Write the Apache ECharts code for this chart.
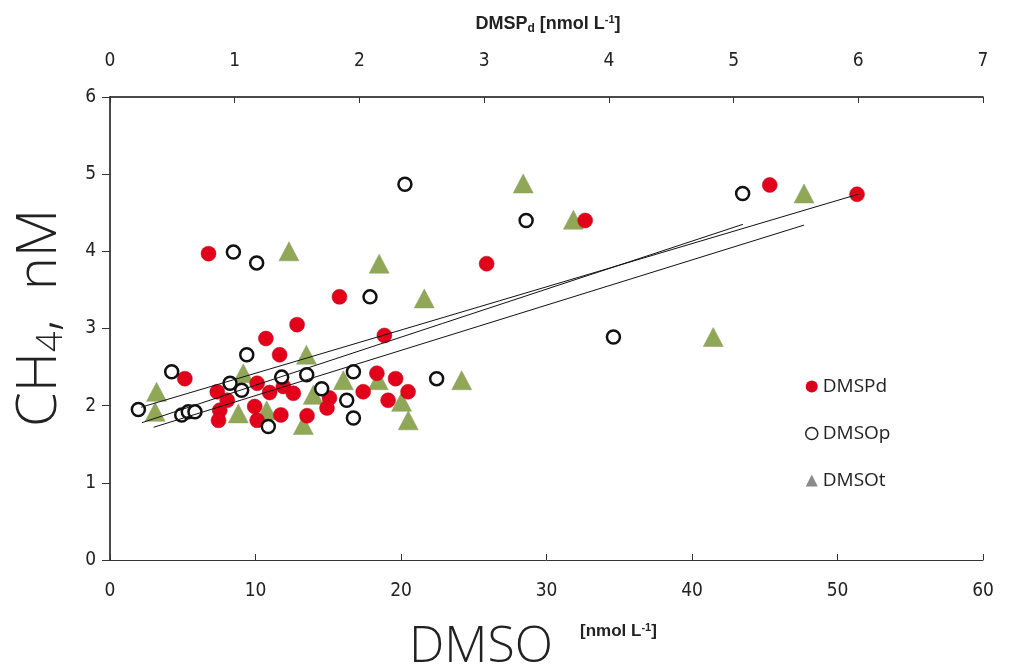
<!DOCTYPE html>
<html><head><meta charset="utf-8">
<script src="https://cdn.jsdelivr.net/npm/echarts@6/dist/echarts.min.js"></script>
<style>html,body{margin:0;padding:0;background:#fff}#c{width:1009px;height:667px}</style>
</head><body><div id="c"></div>
<script>
// DMSPd [nmol L-1] (top axis) vs CH4 [nM]
const dmspdX = [0.79,5.99,5.29,3.81,3.02,1.84,1.50,1.25,2.20,1.36,0.60,0.86,0.94,0.88,0.87,1.18,1.28,1.16,1.18,1.39,1.47,1.37,1.58,1.76,1.74,2.03,2.14,2.29,2.23,2.39];
const dmspdY = [3.97,4.74,4.86,4.40,3.84,3.41,3.05,2.87,2.91,2.66,2.35,2.18,2.07,1.94,1.81,2.29,2.17,1.99,1.81,2.25,2.16,1.88,1.87,2.10,1.97,2.18,2.42,2.35,2.07,2.18];
// DMSOp [nmol L-1] (bottom axis) vs CH4
const dmsopX = [20.27,28.6,8.48,10.08,17.87,43.48,34.6,4.24,1.95,4.93,5.38,5.84,8.25,9.05,9.4,11.8,13.52,10.88,14.55,16.27,16.73,16.73,22.45];
const dmsopY = [4.87,4.40,3.99,3.85,3.41,4.75,2.89,2.44,1.95,1.88,1.92,1.92,2.29,2.20,2.66,2.37,2.40,1.73,2.22,2.07,2.44,1.84,2.35];
// DMSOt [nmol L-1] (bottom axis) vs CH4
const dmsotX = [28.4,31.85,47.7,41.46,12.3,18.5,21.6,3.2,3.1,9.16,8.82,13.5,13.29,13.97,10.77,16.04,18.44,20.04,20.5,24.17];
const dmsotY = [4.88,4.41,4.75,2.89,4.00,3.84,3.39,2.18,1.92,2.42,1.90,2.66,1.75,2.14,1.94,2.33,2.33,2.05,1.81,2.33];
// regression line end points
const fitDmspdX = [0.25, 6.0], fitDmspdY = [1.98, 4.74];
const fitDmsopX = [2.2, 43.5], fitDmsopY = [1.78, 4.35];
const fitDmsotX = [3.0, 47.7], fitDmsotY = [1.72, 4.34];
// axis ticks
const bottomTicks = [0,10,20,30,40,50,60];
const topTicks = [0,1,2,3,4,5,6,7];
const yTicks = [0,1,2,3,4,5,6];

const zip = (a,b) => a.map((v,i)=>[v,b[i]]);
const tickFont = {fontFamily:"'Liberation Sans Narrow','DejaVu Sans Condensed',sans-serif", fontSize:19, color:'#222'};
const chart = echarts.init(document.getElementById('c'), null, {renderer:'canvas'});
chart.setOption({
  animation:false,
  backgroundColor:'#fff',
  grid:{left:110, right:26, top:97, bottom:107},
  xAxis:[
    {type:'value', position:'bottom', min:bottomTicks[0], max:bottomTicks[bottomTicks.length-1], interval:10,
     axisLine:{show:true, lineStyle:{color:'#333', width:1}},
     axisTick:{show:true, inside:true, length:6, lineStyle:{color:'#333'}},
     axisLabel:Object.assign({margin:22}, tickFont), splitLine:{show:false}},
    {type:'value', position:'top', min:topTicks[0], max:topTicks[topTicks.length-1], interval:1,
     axisLine:{show:true, onZero:false, lineStyle:{color:'#111', width:1.5}},
     axisTick:{show:true, inside:true, length:6, lineStyle:{color:'#333'}},
     axisLabel:Object.assign({margin:26}, tickFont), splitLine:{show:false}}
  ],
  yAxis:{type:'value', min:yTicks[0], max:yTicks[yTicks.length-1], interval:1,
     axisLine:{show:true, lineStyle:{color:'#111', width:1.5}},
     axisTick:{show:true, inside:false, length:8, lineStyle:{color:'#333'}},
     axisLabel:Object.assign({margin:14}, tickFont), splitLine:{show:false}},
  legend:{
    orient:'vertical', left:800, top:372, itemGap:28, itemWidth:12, itemHeight:12,
    textStyle:{fontFamily:"'Open Sans',sans-serif", fontSize:19, color:'#222'},
    data:[
      {name:'DMSPd', icon:'circle', itemStyle:{color:'#d9001a', borderColor:'#a00010', borderWidth:0}},
      {name:'DMSOp', icon:'circle', itemStyle:{color:'#fff', borderColor:'#222', borderWidth:1.5}},
      {name:'DMSOt', icon:'triangle', itemStyle:{color:'#8a8a8a', borderWidth:0}}
    ]
  },
  series:[
    {name:'DMSOt', type:'scatter', xAxisIndex:0, data:zip(dmsotX,dmsotY), symbol:'triangle', symbolSize:[20,19], z:2,
     itemStyle:{color:'#90a856', borderColor:'#8a9a70', borderWidth:0.5, opacity:1}},
    {name:'DMSPd', type:'scatter', xAxisIndex:1, data:zip(dmspdX,dmspdY), symbol:'circle', symbolSize:15, z:3,
     itemStyle:{color:'#e3001b', borderColor:'#b0101a', borderWidth:0.5, opacity:1}},
    {name:'DMSOp', type:'scatter', xAxisIndex:0, data:zip(dmsopX,dmsopY), symbol:'circle', symbolSize:13, z:4,
     itemStyle:{color:'#fff', borderColor:'#111', borderWidth:2.5, opacity:1}},
    {name:'fitDMSPd', type:'line', xAxisIndex:1, data:zip(fitDmspdX,fitDmspdY), symbol:'none', z:5, lineStyle:{color:'#111', width:1}},
    {name:'fitDMSOp', type:'line', xAxisIndex:0, data:zip(fitDmsopX,fitDmsopY), symbol:'none', z:5, lineStyle:{color:'#111', width:1}},
    {name:'fitDMSOt', type:'line', xAxisIndex:0, data:zip(fitDmsotX,fitDmsotY), symbol:'none', z:5, lineStyle:{color:'#111', width:1}}
  ],
  graphic:[
    {type:'text', x:548, y:24, style:{
      text:'{b|DMSP}{s|d}{b| [nmol L}{p|-1}{b|]}', align:'center', verticalAlign:'middle',
      rich:{b:{fontFamily:"'Liberation Sans Narrow',sans-serif", fontWeight:'bold', fontSize:18, fill:'#222'},
            s:{fontFamily:"'Liberation Sans Narrow',sans-serif", fontWeight:'bold', fontSize:12, fill:'#222', padding:[9,0,0,0]},
            p:{fontFamily:"'Liberation Sans Narrow',sans-serif", fontWeight:'bold', fontSize:11, fill:'#222', padding:[0,0,8,0]}}
    }},
    {type:'text', x:481, y:648, style:{text:'DMSO', fontFamily:"'Open Sans',sans-serif", fontWeight:300, fontSize:50, fill:'#222', align:'center', verticalAlign:'middle'}},
    {type:'text', x:580, y:622, style:{
      text:'{b|[nmol L}{p|-1}{b|]}',
      rich:{b:{fontFamily:"'Liberation Sans Narrow',sans-serif", fontWeight:'bold', fontSize:17, fill:'#222'},
            p:{fontFamily:"'Liberation Sans Narrow',sans-serif", fontWeight:'bold', fontSize:11, fill:'#222', padding:[0,0,8,0]}}}},
    {type:'text', x:40, y:318, rotation:Math.PI/2, style:{
      text:'{m|CH}{s|4}{m|,  nM}', align:'center', verticalAlign:'middle',
      rich:{m:{fontFamily:"'Open Sans',sans-serif", fontWeight:300, fontSize:56, fill:'#222'},
            s:{fontFamily:"'Open Sans',sans-serif", fontWeight:300, fontSize:36, fill:'#222', padding:[24,0,0,0]}}}}
  ]
});
</script></body></html>
